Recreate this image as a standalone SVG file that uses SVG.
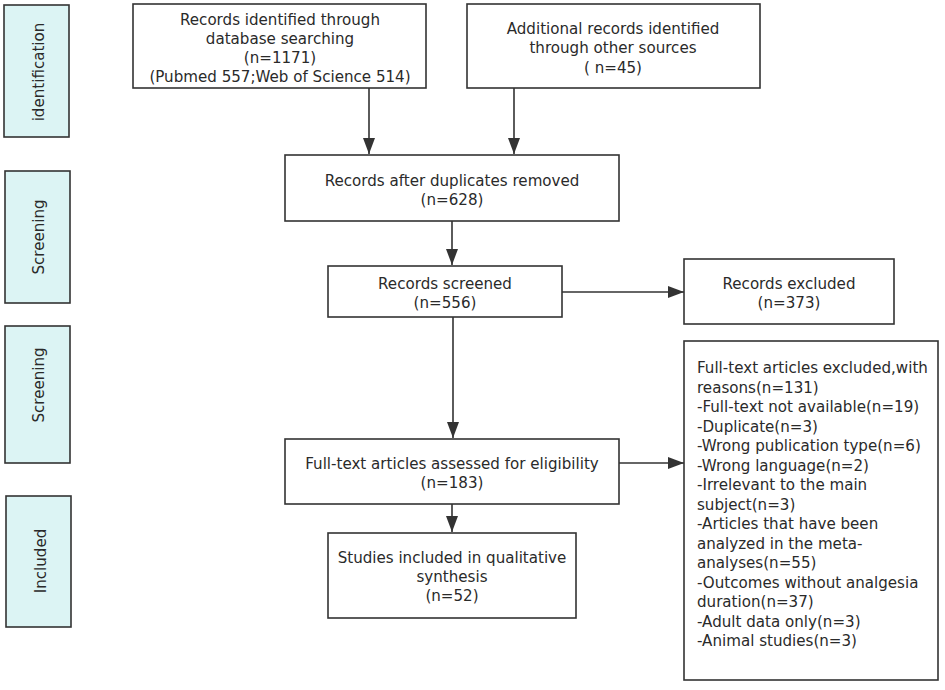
<svg xmlns="http://www.w3.org/2000/svg" width="945" height="690" viewBox="0 0 945 690">
<defs>
<style>
.box{fill:#fff;stroke:#333;stroke-width:1.6}
.side{fill:#dcf4f4;stroke:#333;stroke-width:1.6}
text{font-family:"DejaVu Sans","Open Sans","Liberation Sans",sans-serif;font-size:15.1px;fill:#2a2a2a}
.c{text-anchor:middle}
.ln{stroke:#333;stroke-width:1.6;fill:none}
</style>
<marker id="ah" markerWidth="16" markerHeight="12" refX="16" refY="6" orient="auto" markerUnits="userSpaceOnUse" viewBox="0 0 16 12">
<path d="M0,0 L16,6 L0,12 z" fill="#333"/>
</marker>
</defs>
<rect width="945" height="690" fill="#fff"/>
<g id="side-identification"><rect class="side" x="4" y="5" width="65" height="132"/><text class="c" transform="translate(44,72) rotate(-90)">identification</text></g>
<g id="side-screening1"><rect class="side" x="5" y="171" width="65" height="132"/><text class="c" transform="translate(44,237) rotate(-90)">Screening</text></g>
<g id="side-screening2"><rect class="side" x="5" y="326" width="65" height="137"/><text class="c" transform="translate(44,385) rotate(-90)">Screening</text></g>
<g id="side-included"><rect class="side" x="6" y="496" width="65" height="131"/><text class="c" transform="translate(46,561) rotate(-90)">Included</text></g>

<g id="connectors">
<line class="ln" x1="369" y1="88" x2="369" y2="154" marker-end="url(#ah)"/>
<line class="ln" x1="514" y1="88" x2="514" y2="154" marker-end="url(#ah)"/>
<line class="ln" x1="452" y1="221" x2="452" y2="265" marker-end="url(#ah)"/>
<line class="ln" x1="562" y1="292" x2="684" y2="292" marker-end="url(#ah)"/>
<line class="ln" x1="453" y1="317" x2="453" y2="438" marker-end="url(#ah)"/>
<line class="ln" x1="619" y1="463" x2="684" y2="463" marker-end="url(#ah)"/>
<line class="ln" x1="452" y1="504" x2="452" y2="532" marker-end="url(#ah)"/>
</g>

<g id="node-db"><rect class="box" x="133" y="4" width="293" height="84"/>
<text class="c" x="280" y="25">Records identified through</text>
<text class="c" x="280" y="44">database searching</text>
<text class="c" x="280" y="63">(n=1171)</text>
<text class="c" x="280" y="82">(Pubmed 557;Web of Science 514)</text></g>

<g id="node-other"><rect class="box" x="467" y="4" width="293" height="84"/>
<text class="c" x="613" y="34">Additional records identified</text>
<text class="c" x="613" y="53">through other sources</text>
<text class="c" x="613" y="73">( n=45)</text></g>

<g id="node-dup"><rect class="box" x="285" y="155" width="334" height="66"/>
<text class="c" x="452" y="186">Records after duplicates removed</text>
<text class="c" x="452" y="205">(n=628)</text></g>

<g id="node-screened"><rect class="box" x="328" y="266" width="234" height="51"/>
<text class="c" x="445" y="289">Records screened</text>
<text class="c" x="445" y="308">(n=556)</text></g>

<g id="node-excluded"><rect class="box" x="684" y="259" width="210" height="65"/>
<text class="c" x="789" y="289">Records excluded</text>
<text class="c" x="789" y="308">(n=373)</text></g>

<g id="node-fulltext"><rect class="box" x="285" y="439" width="334" height="65"/>
<text class="c" x="452" y="469">Full-text articles assessed for eligibility</text>
<text class="c" x="452" y="488">(n=183)</text></g>

<g id="node-included"><rect class="box" x="328" y="533" width="248" height="85"/>
<text class="c" x="452" y="563">Studies included in qualitative</text>
<text class="c" x="452" y="582">synthesis</text>
<text class="c" x="452" y="601">(n=52)</text></g>

<g id="node-reasons"><rect class="box" x="684" y="341" width="254" height="339"/>
<text x="697" y="373">Full-text articles excluded,with</text>
<text x="697" y="392.5">reasons(n=131)</text>
<text x="697" y="412">-Full-text not available(n=19)</text>
<text x="697" y="431.5">-Duplicate(n=3)</text>
<text x="697" y="451">-Wrong publication type(n=6)</text>
<text x="697" y="470.5">-Wrong language(n=2)</text>
<text x="697" y="490">-Irrelevant to the main</text>
<text x="697" y="509.5">subject(n=3)</text>
<text x="697" y="529">-Articles that have been</text>
<text x="697" y="548.5">analyzed in the meta-</text>
<text x="697" y="568">analyses(n=55)</text>
<text x="697" y="587.5">-Outcomes without analgesia</text>
<text x="697" y="607">duration(n=37)</text>
<text x="697" y="626.5">-Adult data only(n=3)</text>
<text x="697" y="646">-Animal studies(n=3)</text></g>
</svg>
